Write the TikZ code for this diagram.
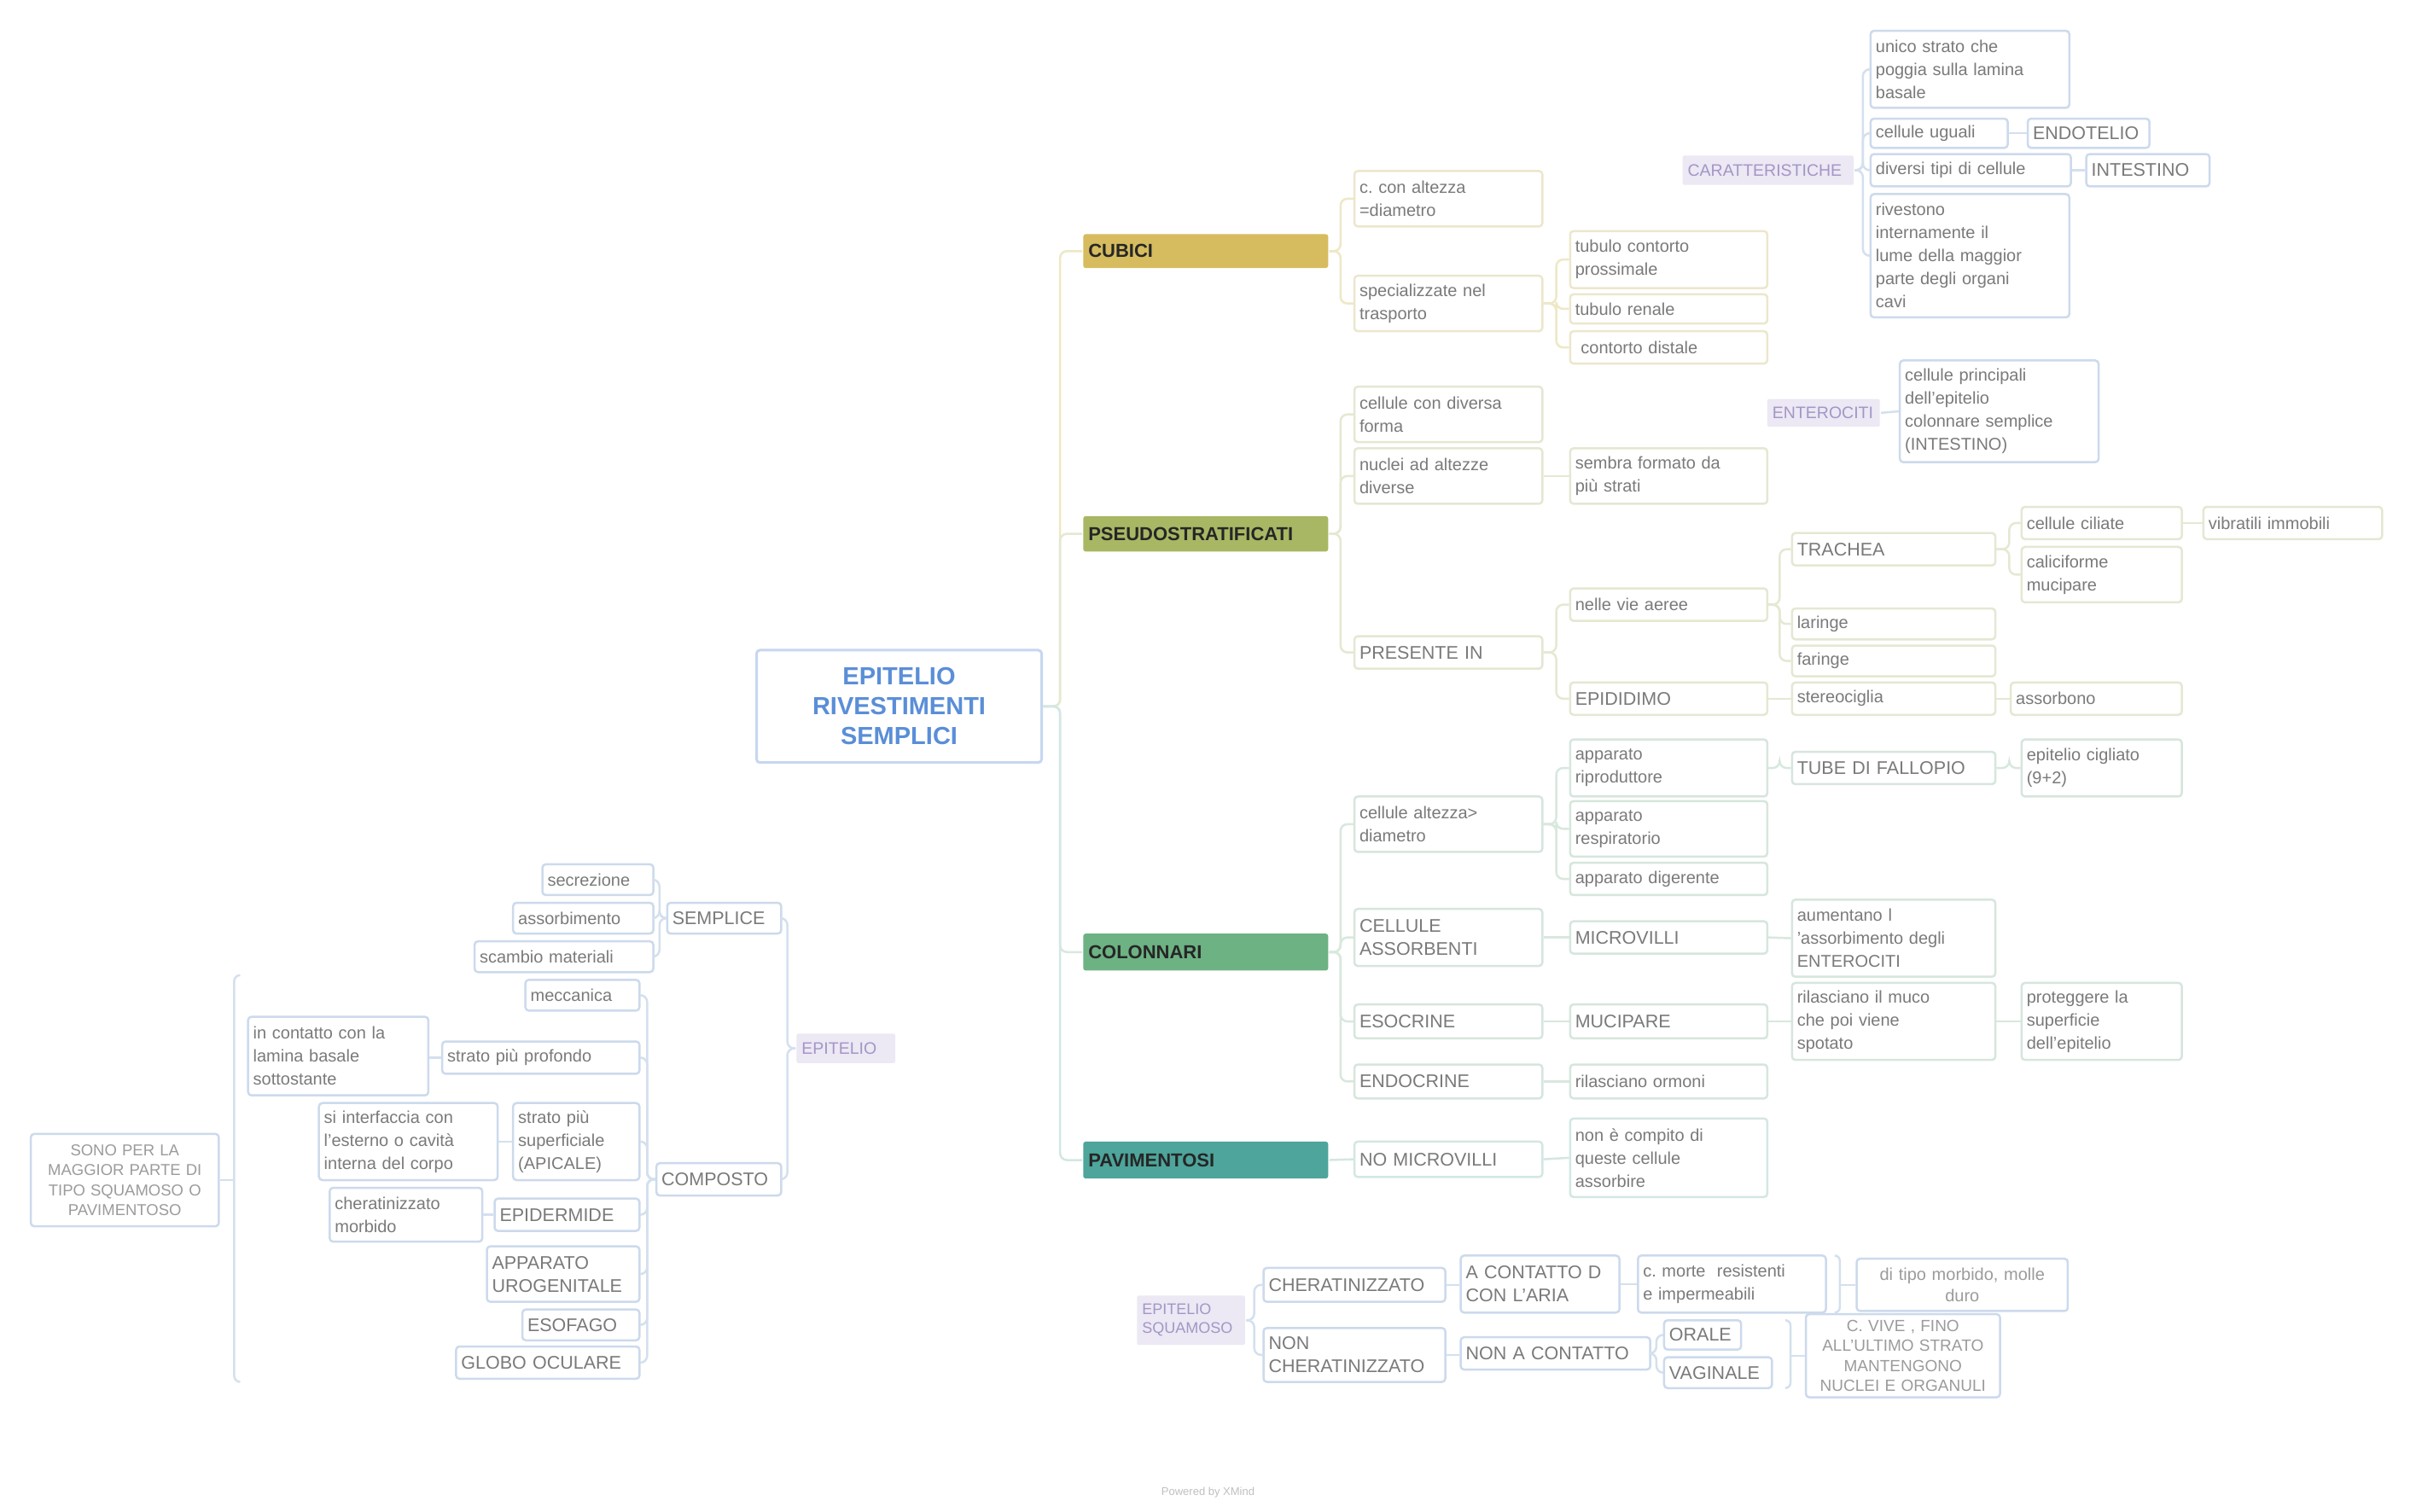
\documentclass[tikz,border=0pt]{standalone}
\usepackage{fontspec}
\setmainfont{Liberation Sans}
\usetikzlibrary{calc}
\definecolor{txt}{HTML}{7A7A7A}
\definecolor{cubF}{HTML}{D6BC5E}
\definecolor{cubB}{HTML}{ECE7CC}
\definecolor{cubL}{HTML}{EEE8C6}
\definecolor{psF}{HTML}{A8B763}
\definecolor{psB}{HTML}{E4E8D2}
\definecolor{psL}{HTML}{E4E9D2}
\definecolor{colF}{HTML}{6DB283}
\definecolor{colB}{HTML}{D6E6DC}
\definecolor{colL}{HTML}{D8E8DD}
\definecolor{pavF}{HTML}{4DA59B}
\definecolor{pavB}{HTML}{D3E7E4}
\definecolor{pavL}{HTML}{D3E7E4}
\definecolor{bluB}{HTML}{CCDAEC}
\definecolor{bluL}{HTML}{D4E0EE}
\definecolor{purF}{HTML}{ECE8F4}
\definecolor{purT}{HTML}{A396C6}
\definecolor{ctrT}{HTML}{5A8ED8}
\definecolor{ctrB}{HTML}{C7D7F0}
\newcommand\bx[7][]{%
\pgfmathsetmacro\bxw{(#5-#3)*1.8055}%
\pgfmathsetmacro\bxh{(#6-#4)*1.8055}%
\pgfmathsetmacro\bxt{(#5-#3)*1.8055-12}%
\node[bxs,minimum width=\bxw pt,minimum height=\bxh pt,text width=\bxt pt,#1] (#2) at ({(#3+#5)/2},{(#4+#6)/2}) {#7};}
\tikzset{
 bxs/.style={draw=bluB, rounded corners=4pt, line width=2.5pt, inner xsep=6pt, inner ysep=2pt, align=left, font=\fontsize{20}{27}\selectfont, text=txt, fill=white},
 cubb/.style={draw=cubB}, psb/.style={draw=psB}, colb/.style={draw=colB}, pavb/.style={draw=pavB}, blb/.style={draw=bluB},
 caps/.style={font=\fontsize{21.5}{27}\selectfont},
 brn/.style={draw=none, rounded corners=3pt, font=\bfseries\fontsize{22}{26}\selectfont, text=black!85},
 pur/.style={draw=none, fill=purF, text=purT, rounded corners=2pt, font=\fontsize{19.5}{23}\selectfont, inner xsep=4pt},
 smalltxt/.style={font=\fontsize{19}{23.5}\selectfont, text=txt!75},
 centr/.style={draw=ctrB, line width=3pt, align=center, text=ctrT, font=\bfseries\fontsize{29}{35}\selectfont},
 conn/.style={line width=2.5pt, rounded corners=8pt},
 brk/.style={line width=2.5pt, bluL},
}
\begin{document}
\begin{tikzpicture}[x=1.8055pt,y=-1.8055pt]
\useasboundingbox[fill=white] (0,0) rectangle (1568,981);
% spines
\coordinate (sM) at (688,0);
\coordinate (sA) at (870,0);
\coordinate (s2) at (1010,0);
\coordinate (s3) at (1155,0);
\coordinate (s4) at (1304,0);
\coordinate (sC) at (1209,0);
\coordinate (sQ) at (814,0);
\coordinate (sQ2) at (1075,0);
\coordinate (sL) at (511,0);
\coordinate (sL2) at (428,0);
\coordinate (sL3) at (420,0);
% central
\bx[centr]{ctr}{491}{422}{676}{495}{EPITELIO\\RIVESTIMENTI\\SEMPLICI}
% branches
\bx[brn,fill=cubF]{cub}{703}{152}{862}{174}{CUBICI}
\bx[brn,fill=psF]{ps}{703}{335}{862}{358}{PSEUDOSTRATIFICATI}
\bx[brn,fill=colF]{co}{703}{606}{862}{630}{COLONNARI}
\bx[brn,fill=pavF]{pa}{703}{741}{862}{765}{PAVIMENTOSI}
% cubici
\bx[cubb]{cubA}{879}{111}{1001}{147}{c.\ con altezza\\=diametro}
\bx[cubb]{cubBB}{879}{179}{1001}{215}{specializzate nel\\trasporto}
\bx[cubb]{cubB1}{1019}{150}{1147}{187}{tubulo contorto\\prossimale}
\bx[cubb]{cubB2}{1019}{191}{1147}{210}{tubulo renale}
\bx[cubb]{cubB3}{1019}{215}{1147}{236}{\ contorto distale}
% caratteristiche
\bx[pur]{car}{1092}{101}{1203}{120}{CARATTERISTICHE}
\bx[blb]{car1}{1214}{20}{1343}{70}{unico strato che\\poggia sulla lamina\\basale}
\bx[blb]{car2}{1214}{77}{1303}{96}{cellule uguali}
\bx[blb,caps]{endo}{1316}{77}{1395}{96}{ENDOTELIO}
\bx[blb]{car3}{1214}{100}{1344}{121}{diversi tipi di cellule}
\bx[blb,caps]{inte}{1354}{100}{1434}{121}{INTESTINO}
\bx[blb]{car4}{1214}{126}{1343}{206}{rivestono\\internamente il\\lume della maggior\\parte degli organi\\cavi}
% pseudo
\bx[psb]{psA}{879}{251}{1001}{287}{cellule con diversa\\forma}
\bx[psb]{psBB}{879}{291}{1001}{327}{nuclei ad altezze\\diverse}
\bx[psb]{psB1}{1019}{291}{1147}{327}{sembra formato da\\più strati}
\bx[psb,caps]{psC}{879}{413}{1001}{434}{PRESENTE IN}
\bx[psb]{psC1}{1019}{382}{1147}{403}{nelle vie aeree}
\bx[psb,caps]{trach}{1163}{346}{1295}{367}{TRACHEA}
\bx[psb]{cil}{1312}{329}{1416}{350}{cellule ciliate}
\bx[psb]{vib}{1430}{329}{1546}{350}{vibratili immobili}
\bx[psb]{calic}{1312}{355}{1416}{391}{caliciforme\\mucipare}
\bx[psb]{lar}{1163}{395}{1295}{415}{laringe}
\bx[psb]{far}{1163}{419}{1295}{439}{faringe}
\bx[psb,caps]{epid}{1019}{443}{1147}{464}{EPIDIDIMO}
\bx[psb]{ster}{1163}{443}{1295}{464}{stereociglia}
\bx[psb]{ass}{1305}{443}{1416}{464}{assorbono}
\bx[pur]{ent}{1147}{259}{1220}{277}{ENTEROCITI}
\bx[blb]{ent1}{1233}{234}{1362}{300}{cellule principali\\dell'epitelio\\colonnare semplice\\(INTESTINO)}
% colonnari
\bx[colb]{coA}{879}{517}{1001}{553}{cellule altezza>\\diametro}
\bx[colb]{coA1}{1019}{480}{1147}{517}{apparato\\riproduttore}
\bx[colb]{coA2}{1019}{520}{1147}{556}{apparato\\respiratorio}
\bx[colb]{coA3}{1019}{560}{1147}{581}{apparato digerente}
\bx[colb,caps]{tube}{1163}{488}{1295}{509}{TUBE DI FALLOPIO}
\bx[colb]{cigl}{1312}{480}{1416}{517}{epitelio cigliato\\(9+2)}
\bx[colb,caps]{coB}{879}{590}{1001}{627}{CELLULE\\ASSORBENTI}
\bx[colb,caps]{micro}{1019}{598}{1147}{619}{MICROVILLI}
\bx[colb]{aum}{1163}{584}{1295}{634}{aumentano l\\'assorbimento degli\\ENTEROCITI}
\bx[colb,caps]{coC}{879}{652}{1001}{674}{ESOCRINE}
\bx[colb,caps]{muci}{1019}{652}{1147}{674}{MUCIPARE}
\bx[colb]{muco}{1163}{638}{1295}{688}{rilasciano il muco\\che poi viene\\spotato}
\bx[colb]{prot}{1312}{638}{1416}{688}{proteggere la\\superficie\\dell'epitelio}
\bx[colb,caps]{coD}{879}{691}{1001}{713}{ENDOCRINE}
\bx[colb]{orm}{1019}{691}{1147}{713}{rilasciano ormoni}
% pavimentosi
\bx[pavb,caps]{paA}{879}{741}{1001}{764}{NO MICROVILLI}
\bx[pavb]{paA1}{1019}{726}{1147}{777}{non è compito di\\queste cellule\\assorbire}
% squamoso
\bx[pur,font=\fontsize{18}{22}\selectfont,align=left]{squa}{738}{841}{808}{873}{EPITELIO\\SQUAMOSO}
\bx[blb,caps]{cher}{820}{823}{938}{845}{CHERATINIZZATO}
\bx[blb,caps]{acon}{948}{815}{1051}{852}{A CONTATTO D\\CON L'ARIA}
\bx[blb]{morte}{1063}{815}{1185}{852}{c.\ morte \ resistenti\\e impermeabili}
\bx[blb,smalltxt,align=center,font=\fontsize{20}{25}\selectfont]{tipo}{1205}{817}{1342}{851}{di tipo morbido, molle\\duro}
\bx[blb,caps]{ncher}{820}{862}{938}{897}{NON\\CHERATINIZZATO}
\bx[blb,caps]{ncon}{948}{868}{1071}{889}{NON A CONTATTO}
\bx[blb,caps]{oral}{1080}{857}{1130}{876}{ORALE}
\bx[blb,caps]{vag}{1080}{881}{1150}{901}{VAGINALE}
\bx[blb,smalltxt,align=center]{vive}{1172}{853}{1298}{907}{C. VIVE , FINO\\ALL'ULTIMO STRATO\\MANTENGONO\\NUCLEI E ORGANULI}
% left tree
\bx[pur]{lepi}{517}{671}{581}{690}{EPITELIO}
\bx[blb,caps]{semp}{433}{586}{507}{606}{SEMPLICE}
\bx[blb,caps]{comp}{426}{755}{507}{776}{COMPOSTO}
\bx[blb]{secr}{352}{561}{424}{581}{secrezione}
\bx[blb]{asso}{333}{586}{424}{606}{assorbimento}
\bx[blb]{scam}{308}{611}{424}{631}{scambio materiali}
\bx[blb]{mecc}{341}{636}{415}{656}{meccanica}
\bx[blb]{prof}{287}{676}{415}{697}{strato più profondo}
\bx[blb]{lam}{161}{660}{278}{711}{in contatto con la\\lamina basale\\sottostante}
\bx[blb]{sup}{333}{716}{415}{766}{strato più\\superficiale\\(APICALE)}
\bx[blb]{intf}{207}{716}{323}{766}{si interfaccia con\\l'esterno o cavità\\interna del corpo}
\bx[blb,caps]{epid2}{321}{778}{415}{799}{EPIDERMIDE}
\bx[blb]{cmor}{214}{771}{313}{806}{cheratinizzato\\morbido}
\bx[blb,caps]{urog}{316}{809}{415}{845}{APPARATO\\UROGENITALE}
\bx[blb,caps]{esof}{339}{850}{415}{870}{ESOFAGO}
\bx[blb,caps]{glob}{296}{874}{415}{895}{GLOBO OCULARE}
\bx[blb,smalltxt,align=center,font=\fontsize{18.5}{23.5}\selectfont]{sono}{20}{736}{142}{796}{SONO PER LA\\MAGGIOR PARTE DI\\TIPO SQUAMOSO O\\PAVIMENTOSO}
% footer
\node[text=black!25, font=\fontsize{13}{15}\selectfont] (foot) at (784,969) {Powered by XMind};
% ---------- connectors ----------
\draw[conn,cubL] (ctr.east) -- (ctr.east -| sM) |- (cub.west);
\draw[conn,psL] (ctr.east) -- (ctr.east -| sM) |- (ps.west);
\draw[conn,colL] (ctr.east) -- (ctr.east -| sM) |- (co.west);
\draw[conn,pavL] (ctr.east) -- (ctr.east -| sM) |- (pa.west);
% cubici
\foreach \c in {cubA,cubBB} \draw[conn,cubL] (cub.east) -- (cub.east -| sA) |- (\c.west);
\foreach \c in {cubB1,cubB2,cubB3} \draw[conn,cubL] (cubBB.east) -- (cubBB.east -| s2) |- (\c.west);
% caratteristiche
\foreach \c in {car1,car2,car3,car4} \draw[conn,bluL] (car.east) -- (car.east -| sC) |- (\c.west);
\draw[conn,bluL] (car2.east) -- (endo.west);
\draw[conn,bluL] (car3.east) -- (inte.west);
\draw[conn,bluL] (ent.east) -- (ent1.west);
% pseudo
\foreach \c in {psA,psBB,psC} \draw[conn,psL] (ps.east) -- (ps.east -| sA) |- (\c.west);
\draw[conn,psL] (psBB.east) -- (psB1.west);
\foreach \c in {psC1,epid} \draw[conn,psL] (psC.east) -- (psC.east -| s2) |- (\c.west);
\foreach \c in {trach,lar,far} \draw[conn,psL] (psC1.east) -- (psC1.east -| s3) |- (\c.west);
\foreach \c in {cil,calic} \draw[conn,psL] (trach.east) -- (trach.east -| s4) |- (\c.west);
\draw[conn,psL] (cil.east) -- (vib.west);
\draw[conn,psL] (epid.east) -- (ster.west);
\draw[conn,psL] (ster.east) -- (ass.west);
% colonnari
\foreach \c in {coA,coB,coC,coD} \draw[conn,colL] (co.east) -- (co.east -| sA) |- (\c.west);
\foreach \c in {coA1,coA2,coA3} \draw[conn,colL] (coA.east) -- (coA.east -| s2) |- (\c.west);
\draw[conn,colL] (coA1.east) -- (coA1.east -| s3) |- (tube.west);
\draw[conn,colL] (tube.east) -- (tube.east -| s4) |- (cigl.west);
\draw[conn,colL] (coB.east) -- (micro.west);
\draw[conn,colL] (micro.east) -- (aum.west);
\draw[conn,colL] (coC.east) -- (muci.west);
\draw[conn,colL] (muci.east) -- (muco.west);
\draw[conn,colL] (muco.east) -- (prot.west);
\draw[conn,colL] (coD.east) -- (orm.west);
% pavimentosi
\draw[conn,pavL] (pa.east) -- (paA.west);
\draw[conn,pavL] (paA.east) -- (paA1.west);
% squamoso
\foreach \c in {cher,ncher} \draw[conn,bluL] (squa.east) -- (squa.east -| sQ) |- (\c.west);
\draw[conn,bluL] (cher.east) -- (cher.east -| acon.west);
\draw[conn,bluL] (acon.east) -- (acon.east -| morte.west);
\draw[conn,bluL] (ncher.east) -- (ncher.east -| ncon.west);
\foreach \c in {oral,vag} \draw[conn,bluL] (ncon.east) -- (ncon.east -| sQ2) |- (\c.west);
% left tree
\foreach \c in {semp,comp} \draw[conn,bluL] (lepi.west) -- (lepi.west -| sL) |- (\c.east);
\foreach \c in {secr,asso,scam} \draw[conn,bluL] (semp.west) -- (semp.west -| sL2) |- (\c.east);
\foreach \c in {mecc,prof,sup,epid2,urog,esof,glob} \draw[conn,bluL] (comp.west) -- (comp.west -| sL3) |- (\c.east);
\draw[conn,bluL] (prof.west) -- (prof.west -| lam.east);
\draw[conn,bluL] (sup.west) -- (sup.west -| intf.east);
\draw[conn,bluL] (epid2.west) -- (epid2.west -| cmor.east);
% summary brackets
\coordinate (bLt) at (152,633); \coordinate (bLb) at (152,897); \coordinate (bLm) at (152,766);
\draw[brk] ([xshift=7pt]bLt) to[out=180,in=90] ([yshift=-7pt]bLt) -- ([yshift=7pt]bLb) to[out=270,in=180] ([xshift=7pt]bLb);
\draw[brk] (bLm) -- (sono.east);
\coordinate (bRt) at (1162,857); \coordinate (bRb) at (1162,901); \coordinate (bRm) at (1162,880);
\draw[brk] ([xshift=-6pt]bRt) to[out=0,in=90] ([yshift=-6pt]bRt) -- ([yshift=6pt]bRb) to[out=270,in=0] ([xshift=-6pt]bRb);
\draw[brk] (bRm) -- (vive.west);
\coordinate (bMt) at (1194,815); \coordinate (bMb) at (1194,852); \coordinate (bMm) at (1194,834);
\draw[brk] ([xshift=-6pt]bMt) to[out=0,in=90] ([yshift=-6pt]bMt) -- ([yshift=6pt]bMb) to[out=270,in=0] ([xshift=-6pt]bMb);
\draw[brk] (bMm) -- (tipo.west);
\end{tikzpicture}
\end{document}
